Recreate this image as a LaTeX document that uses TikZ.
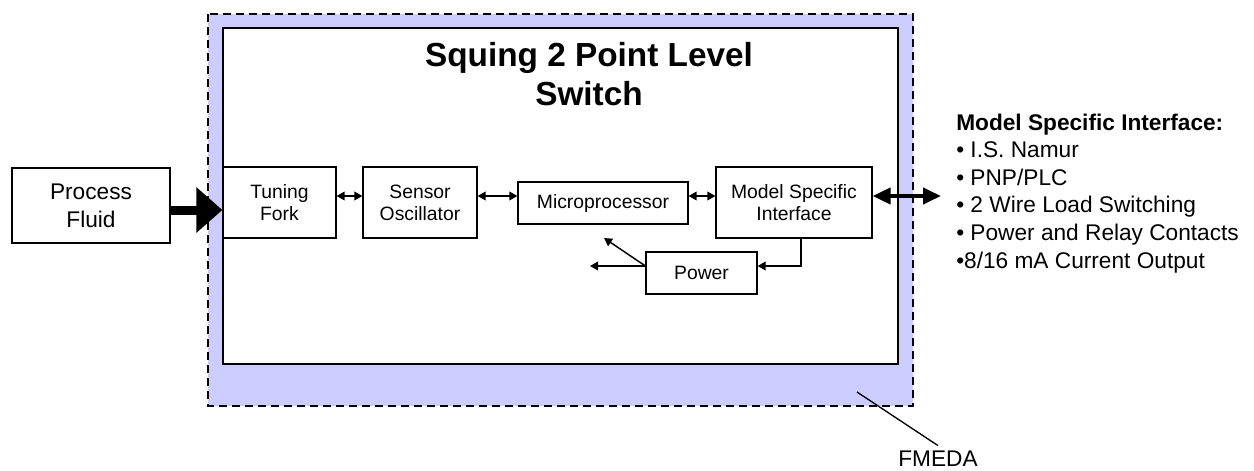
\documentclass[tikz,border=0pt]{standalone}
\usepackage{fontspec}
\setmainfont{Liberation Sans}
\usepackage{tikz}
\usetikzlibrary{positioning,arrows.meta}

\definecolor{fmedablue}{HTML}{CCCCFF}

\tikzset{
  block/.style={draw, line width=0.9pt, fill=white, align=center, inner sep=1pt,
    font=\fontsize{14.5}{16.5}\selectfont},
  link/.style={line width=1.1pt,
    {Triangle[length=6pt,width=6.5pt]}-{Triangle[length=6pt,width=6.5pt]}},
  feed/.style={line width=1.1pt, -{Triangle[length=6pt,width=6.5pt]}},
  listtext/.style={anchor=base west, inner sep=0pt, font=\fontsize{17}{20}\selectfont},
}

\begin{document}
\begin{tikzpicture}[x=0.75pt, y=-0.75pt]
\useasboundingbox (0,0) rectangle (1254,471);

% FMEDA boundary
\filldraw[fill=fmedablue, line width=1.1pt, dash pattern=on 6pt off 3.75pt]
  (208,14) rectangle (913,406);

% switch housing
\filldraw[fill=white, line width=1.3pt] (223,28) rectangle (898,364);
\node[font=\bfseries\fontsize{25}{29}\selectfont, align=center] (title) at (589,74)
  {Squing 2 Point Level\\Switch};

% line heights
\coordinate (sig) at (0,196);
\coordinate (flow) at (0,210);
\coordinate (tap) at (801,266);
\coordinate (out) at (941,196);
\coordinate (pwrout) at (590,266);
\coordinate (pwrup) at (604,238);

% blocks
\node[block, minimum width=118.5pt, minimum height=56.25pt,
  font=\fontsize{17}{21}\selectfont] (fluid) at (91,205.5) {Process\\Fluid};
\node[block, minimum width=84.75pt, minimum height=53.25pt] (fork) at (279.5,202.5) {Tuning\\Fork};
\node[block, minimum width=85.5pt, minimum height=53.25pt] (osc) at (420,202.5) {Sensor\\Oscillator};
\node[block, minimum width=127.5pt, minimum height=31.5pt] (micro) at (603,203) {Microprocessor};
\node[block, minimum width=117pt, minimum height=53.25pt] (msi) at (794,202.5) {Model Specific\\Interface};
\node[block, minimum width=83.25pt, minimum height=31.5pt] (power) at (701.5,273) {Power};

% process input
\draw[line width=6.75pt, -{Triangle[length=19.5pt,width=33pt]}]
  (fluid.east |- flow) -- (fork.west |- flow);

% internal links
\draw[link] (fork.east |- sig) -- (osc.west |- sig);
\draw[link] (osc.east |- sig) -- (micro.west |- sig);
\draw[link] (micro.east |- sig) -- (msi.west |- sig);

% outside interface
\draw[line width=3pt, {Triangle[length=13.5pt,width=12pt]}-{Triangle[length=13.5pt,width=12pt]}]
  (msi.east |- sig) -- (out);

% power supply
\draw[feed] (msi.south -| tap) |- (power.east |- tap);
\draw[feed] (power.west |- tap) -- (pwrout);
\draw[feed] (power.west |- tap) -- (pwrup);

% interface options
\node[listtext, font=\bfseries\fontsize{17}{20}\selectfont] (mhead) at (956,130)
  {Model Specific Interface:};
\foreach \txt [count=\i] in {{• I.S. Namur}, {• PNP/PLC}, {• 2 Wire Load Switching},
    {• Power and Relay Contacts}, {•8/16 mA Current Output}} {
  \node[listtext] (item\i) at (956,{130+27.6*\i}) {\txt};
}

% FMEDA label
\coordinate (ptr) at (857,392);
\node[font=\fontsize{17}{20}\selectfont, inner sep=4pt] (fmeda) at (938,459) {FMEDA};
\draw[line width=1pt] (ptr) -- (fmeda.north);
\end{tikzpicture}
\end{document}
